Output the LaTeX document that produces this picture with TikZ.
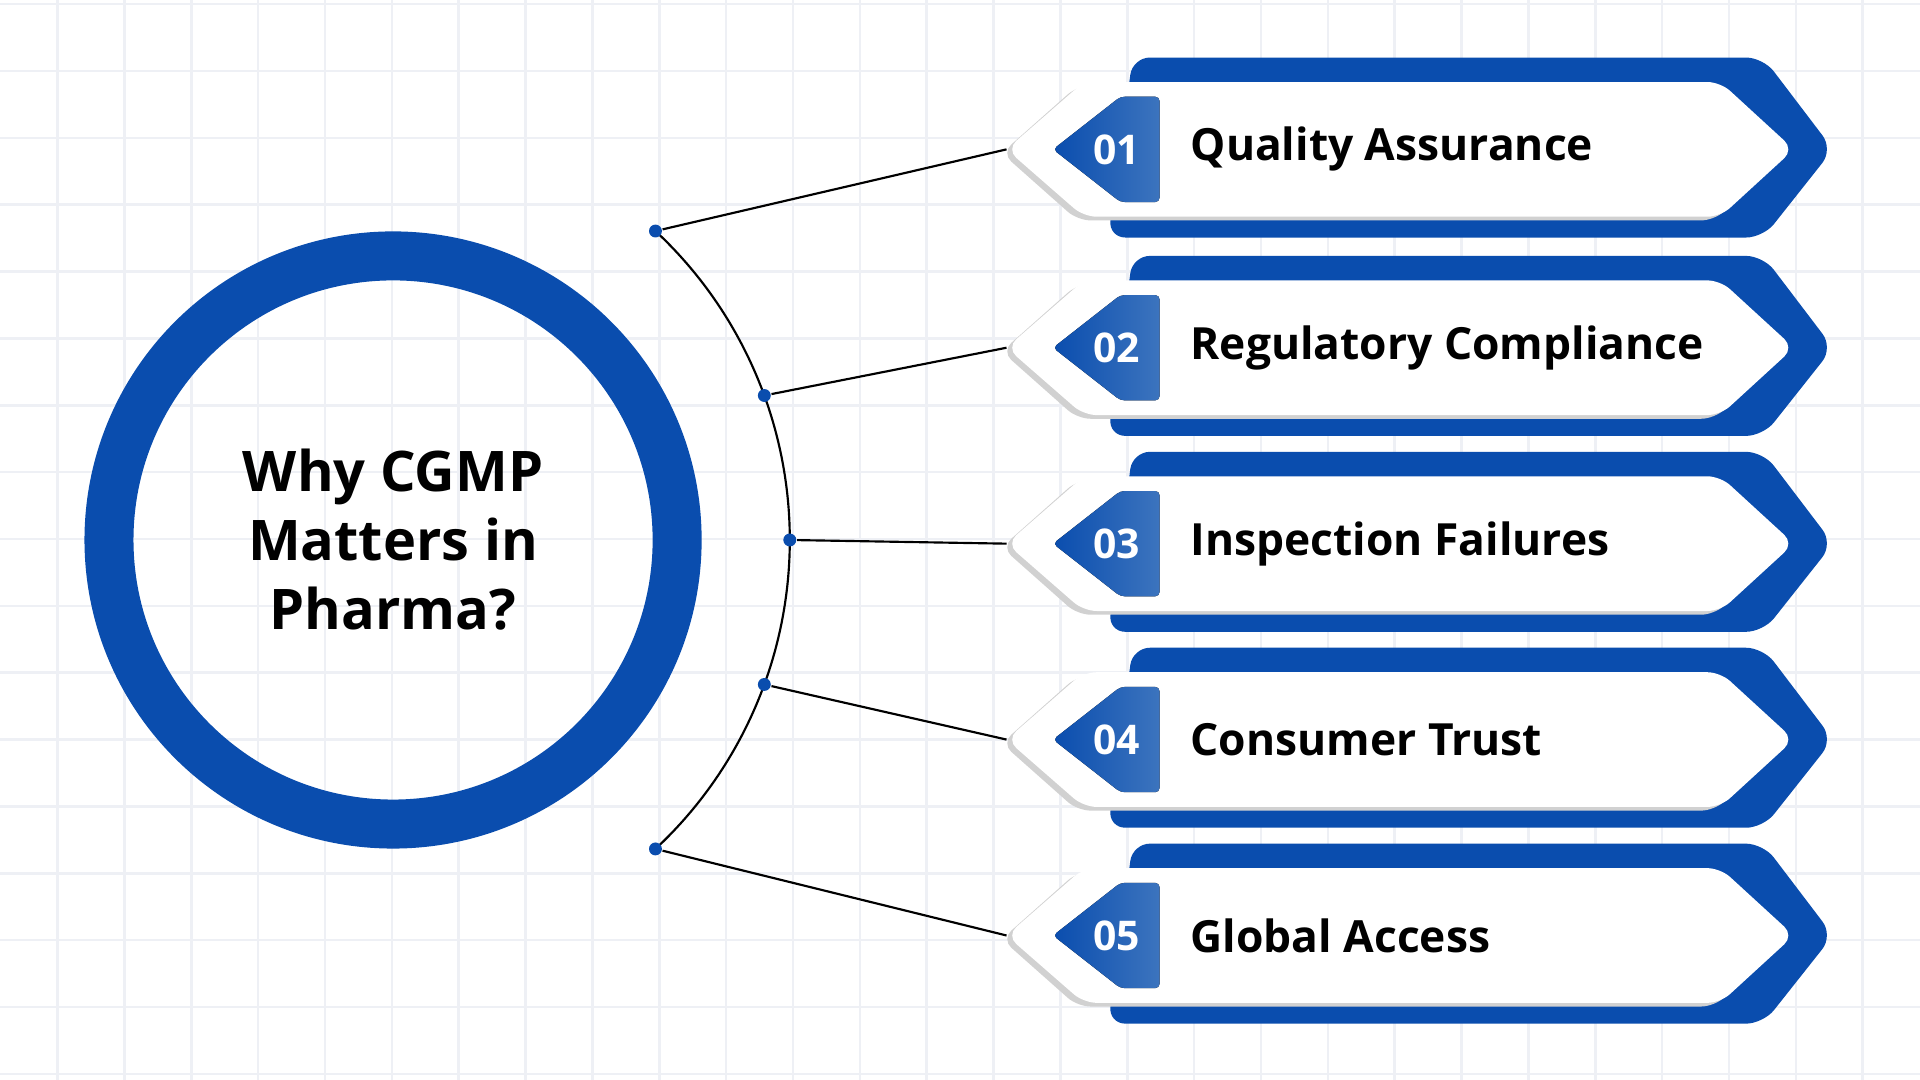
\documentclass[tikz,border=0pt]{standalone}
\usepackage{fontspec}
\setmainfont{Open Sans}
\usetikzlibrary{calc}
\definecolor{cgmpblue}{HTML}{0A4DAE}
\definecolor{tabblue}{HTML}{3C74BE}
\definecolor{gridgray}{HTML}{EEF0F5}
\tikzstyle{backcard} = [fill=cgmpblue, rounded corners=4pt]
\tikzstyle{frontcard} = [fill=white, rounded corners=3pt]
\tikzstyle{cardshadow} = [fill=black!18, rounded corners=3pt]
\tikzstyle{numtab} = [left color=cgmpblue, right color=tabblue, rounded corners=1pt]
\tikzstyle{numtext} = [text=white, font=\fontsize{9.5}{11}\selectfont\bfseries]
\tikzstyle{labeltext} = [anchor=west, font=\fontsize{10.3}{12}\selectfont\bfseries]
\tikzstyle{joint} = [circle, fill=cgmpblue, inner sep=0pt, minimum size=3pt]
\tikzstyle{link} = [black, line width=0.5pt]

\begin{document}
\begin{tikzpicture}[x=0.01cm,y=0.01cm]
\fill[white] (0,0) rectangle (1568,882);
\useasboundingbox (0,0) rectangle (1568,882);
% background grid
\foreach \gx in {47,101.6,...,1568} \draw[gridgray, line width=0.6pt] (\gx,0) -- (\gx,882);
\foreach \gy in {5,59.6,...,882} \draw[gridgray, line width=0.6pt] (0,\gy) -- (1568,\gy);

% centre circle
\draw[cgmpblue, line width=0.4cm] (321,441) circle (232);
\node (title) at (321,441) [align=center, font=\fontsize{13}{16}\selectfont\bfseries] {Why CGMP\\Matters in\\Pharma?};

% arc with joints
\draw[link] (300,441) ++(47:345) arc (47:-47:345);
\foreach \i/\ang in {1/47,2/20,3/0,4/-20,5/-47}
  \node (j\i) [joint] at ($(300,441)+(\ang:345)$) {};

% cards
\foreach \i/\cy/\lab in {1/760/Quality Assurance,2/598/Regulatory Compliance,3/438/Inspection Failures,4/278/Consumer Trust,5/118/Global Access}{
  \fill[backcard] (905,\cy-72) -- (925,\cy+75) -- (1440,\cy+75) -- (1497,\cy) -- (1440,\cy-72) -- cycle;
  \fill[cardshadow] (818,\cy-3) -- (880,\cy+52) -- (1400,\cy+52) -- (1460,\cy-3) -- (1400,\cy-58) -- (880,\cy-58) -- cycle;
  \fill[frontcard] (822,\cy) -- (885,\cy+55) -- (1405,\cy+55) -- (1465,\cy) -- (1405,\cy-55) -- (885,\cy-55) -- cycle;
  \fill[numtab] (860,\cy) -- (915,\cy+43) -- (947,\cy+43) -- (947,\cy-43) -- (915,\cy-43) -- cycle;
  \node (num\i) [numtext] at (912,\cy) {0\i};
  \node (lab\i) [labeltext] at (960,\cy) {\lab};
  \coordinate (tip\i) at (822,\cy);
  \draw[link] (j\i) -- (tip\i);
}
\end{tikzpicture}
\end{document}
